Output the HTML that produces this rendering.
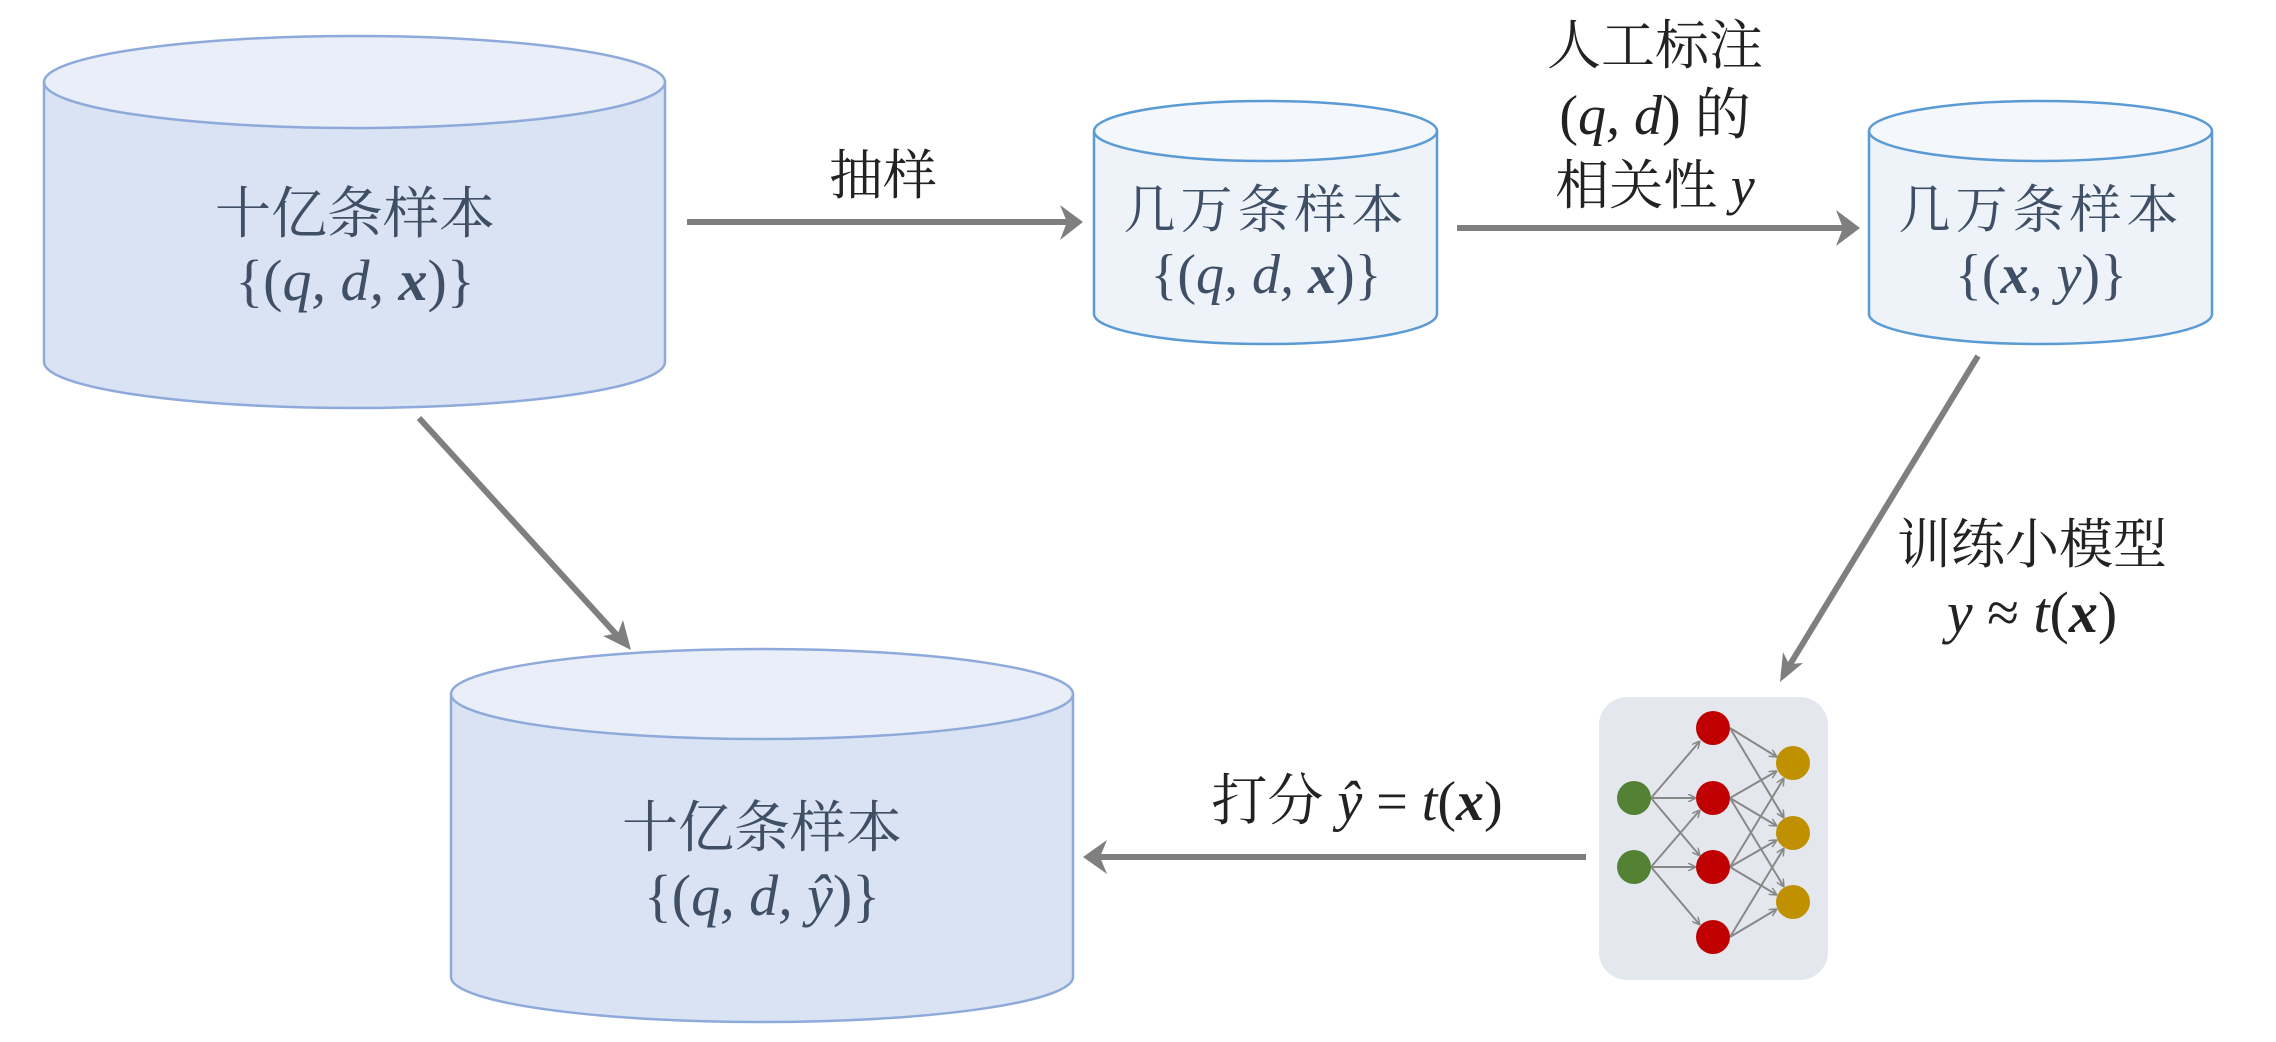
<!DOCTYPE html>
<html><head><meta charset="utf-8"><style>
html,body{margin:0;padding:0;background:#fff;}
svg{display:block}
.cj{font-family:"Liberation Serif","Noto Serif CJK SC",serif;}
.m{font-family:"Liberation Serif","Noto Serif CJK SC",serif;font-style:italic;}
</style></head><body>
<svg width="2276" height="1042" viewBox="0 0 2276 1042" xmlns="http://www.w3.org/2000/svg">
<g stroke="#8eaadb" stroke-width="2.5">
<path d="M44,82 L44,362 A310.5,46 0 0 0 665,362 L665,82" fill="#dae3f3"/>
<ellipse cx="354.5" cy="82" rx="310.5" ry="46" fill="#e9eef8"/>
</g>
<g stroke="#8eaadb" stroke-width="2.5">
<path d="M451,694 L451,977 A311,45 0 0 0 1073,977 L1073,694" fill="#dae3f3"/>
<ellipse cx="762" cy="694" rx="311" ry="45" fill="#e9eef8"/>
</g>
<g stroke="#5b9bd5" stroke-width="2.5">
<path d="M1094,131 L1094,314 A171.5,30 0 0 0 1437,314 L1437,131" fill="#eef3fa"/>
<ellipse cx="1265.5" cy="131" rx="171.5" ry="30" fill="#f4f7fc"/>
</g>
<g stroke="#5b9bd5" stroke-width="2.5">
<path d="M1869,131 L1869,314 A171.5,30 0 0 0 2212,314 L2212,131" fill="#eef3fa"/>
<ellipse cx="2040.5" cy="131" rx="171.5" ry="30" fill="#f4f7fc"/>
</g>

<g stroke="#7f7f7f" stroke-width="6" fill="none">
<line x1="687" y1="222" x2="1075" y2="222"/>
<line x1="1457" y1="228" x2="1848" y2="228"/>
<line x1="419" y1="418" x2="625" y2="644"/>
<line x1="1978" y1="356" x2="1783" y2="676"/>
<line x1="1586" y1="857" x2="1090" y2="857"/>
</g>
<g fill="#7f7f7f">
<polygon points="1083,222 1060,205 1067,222 1060,240"/>
<polygon points="1860,228 1836,210 1843,228 1836,246"/>
<polygon points="631,650 623,620 618,633 603,636"/>
<polygon points="1780,682 1783,652 1789,664 1803,663"/>
<polygon points="1083,857 1107,840 1100,857 1107,874"/>
</g>

<defs>
<marker id="sa" markerWidth="8" markerHeight="8" refX="8" refY="4" orient="auto" markerUnits="userSpaceOnUse" viewBox="0 0 8 8">
<path d="M0,0 L8,4 L0,8" fill="none" stroke="#888" stroke-width="1.5"/>
</marker>
</defs>
<rect x="1599" y="697" width="229" height="283" rx="28" fill="#e4e8ee"/>
<g stroke="#888" stroke-width="2" fill="none" marker-end="url(#sa)">
<line x1="1651" y1="798" x2="1700" y2="741"/><line x1="1651" y1="798" x2="1696" y2="798"/><line x1="1651" y1="798" x2="1700" y2="856"/>
<line x1="1651" y1="867" x2="1700" y2="810"/><line x1="1651" y1="867" x2="1696" y2="867"/><line x1="1651" y1="867" x2="1700" y2="925"/>
<line x1="1730" y1="728" x2="1777" y2="757"/><line x1="1730" y1="728" x2="1784" y2="818"/>
<line x1="1730" y1="798" x2="1777" y2="771"/><line x1="1730" y1="798" x2="1777" y2="826"/><line x1="1730" y1="798" x2="1784" y2="887"/>
<line x1="1730" y1="867" x2="1784" y2="778"/><line x1="1730" y1="867" x2="1777" y2="840"/><line x1="1730" y1="867" x2="1777" y2="895"/>
<line x1="1730" y1="937" x2="1784" y2="848"/><line x1="1730" y1="937" x2="1777" y2="909"/>
</g>
<g fill="#548235"><circle cx="1634" cy="798" r="17"/><circle cx="1634" cy="867" r="17"/></g>
<g fill="#c00000"><circle cx="1713" cy="728" r="17"/><circle cx="1713" cy="798" r="17"/><circle cx="1713" cy="867" r="17"/><circle cx="1713" cy="937" r="17"/></g>
<g fill="#bf9000"><circle cx="1793" cy="763" r="17"/><circle cx="1793" cy="833" r="17"/><circle cx="1793" cy="902" r="17"/></g>

<g fill="#3f4f66" text-anchor="middle">
<text x="355" y="233" class="cj" font-size="56">十亿条样本</text>
<text x="355" y="300" class="m" font-size="58"><tspan font-style="normal">{(</tspan>q, d, <tspan font-weight="bold">x</tspan><tspan font-style="normal">)}</tspan></text>
<text x="1266" y="228" class="cj" font-size="52" letter-spacing="5">几万条样本</text>
<text x="1266" y="293" class="m" font-size="56"><tspan font-style="normal">{(</tspan>q, d, <tspan font-weight="bold">x</tspan><tspan font-style="normal">)}</tspan></text>
<text x="2041" y="228" class="cj" font-size="52" letter-spacing="5">几万条样本</text>
<text x="2041" y="293" class="m" font-size="56"><tspan font-style="normal">{(</tspan><tspan font-weight="bold">x</tspan>, y<tspan font-style="normal">)}</tspan></text>
<text x="762" y="847" class="cj" font-size="56">十亿条样本</text>
<text x="762" y="915" class="m" font-size="58"><tspan font-style="normal">{(</tspan>q, d, ŷ<tspan font-style="normal">)}</tspan></text>
</g>
<g fill="#222" text-anchor="middle">
<text x="883" y="194" class="cj" font-size="54">抽样</text>
<text x="1655" y="64" class="cj" font-size="54">人工标注</text>
<text x="1655" y="134" class="m" font-size="56"><tspan font-style="normal">(</tspan>q, d<tspan font-style="normal">) 的</tspan></text>
<text x="1655" y="204" class="cj" font-size="54">相关性 <tspan font-style="italic">y</tspan></text>
<text x="2032" y="563" class="cj" font-size="54">训练小模型</text>
<text x="2032" y="632" class="m" font-size="58">y <tspan font-style="normal">≈</tspan> t<tspan font-style="normal">(</tspan><tspan font-weight="bold">x</tspan><tspan font-style="normal">)</tspan></text>
<text x="1357" y="820" class="cj" font-size="56">打分 <tspan font-style="italic">ŷ</tspan> = <tspan font-style="italic">t</tspan>(<tspan font-style="italic" font-weight="bold">x</tspan>)</text>
</g>
</svg>
</body></html>
